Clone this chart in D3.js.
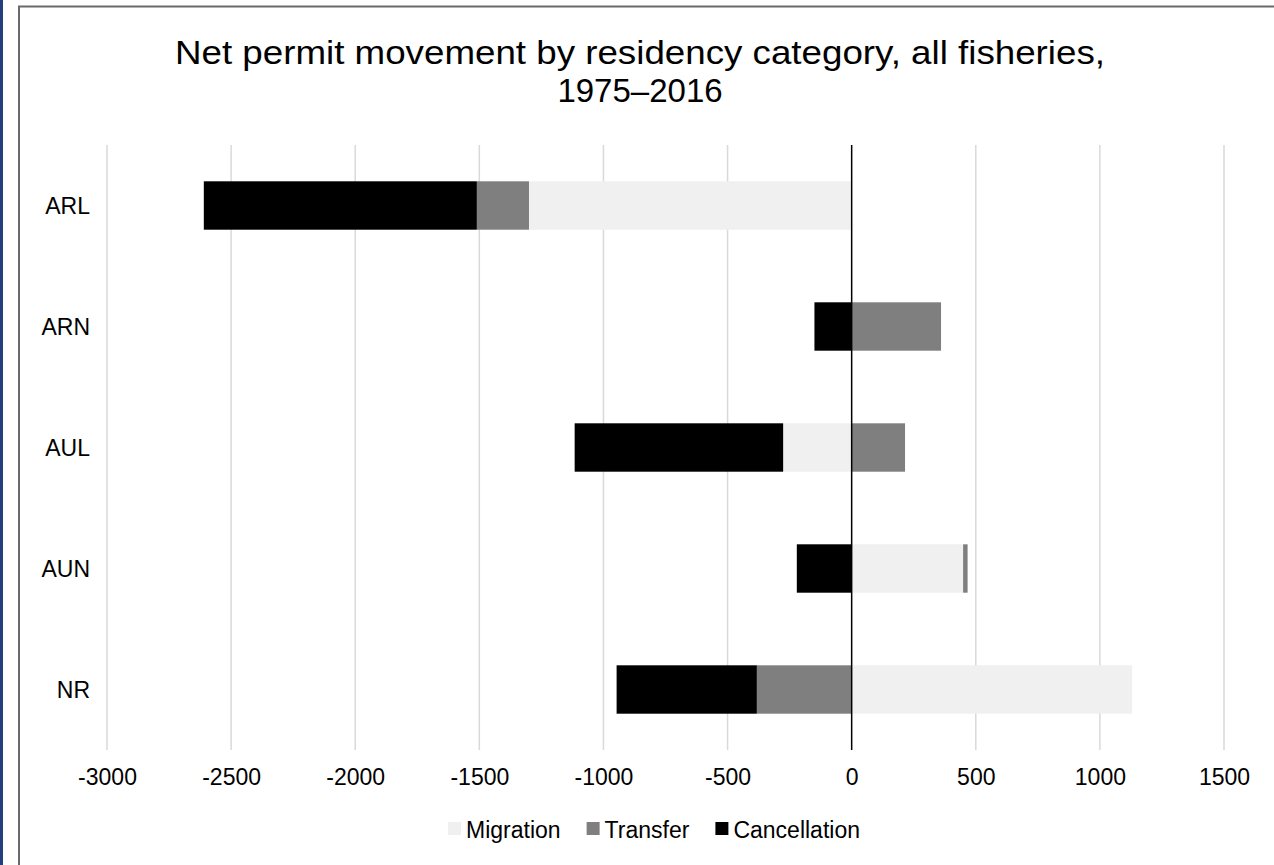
<!DOCTYPE html>
<html>
<head>
<meta charset="utf-8">
<script src="https://cdn.jsdelivr.net/npm/d3@7"></script>
<style>
  html, body { margin: 0; padding: 0; background: #fff; }
  svg { display: block; }
  text { font-family: "Liberation Sans", Arial, sans-serif; fill: #000; }
</style>
</head>
<body>
<svg id="chart" width="1274" height="865"></svg>
<script>
// ---- data ----
const categories = ["ARL", "ARN", "AUL", "AUN", "NR"];
const seriesNames = ["Migration", "Transfer", "Cancellation"];
const migration    = [-1300,    0, -276, 449, 1130];
const transfer     = [ -210,  360,  215,  18, -382];
const cancellation = [-1100, -150, -840, -221, -565];
const xTicks = [-3000, -2500, -2000, -1500, -1000, -500, 0, 500, 1000, 1500];
const titleLines = ["Net permit movement by residency category, all fisheries,", "1975\u20132016"];
const colors = ["#f0f0f0", "#7f7f7f", "#000000"];

const W = 1274, H = 865;
const svg = d3.select("#chart");

// frame
svg.append("rect").attr("x", 0).attr("y", 0).attr("width", 3).attr("height", H).attr("fill", "#24407c");
svg.append("rect").attr("x", 19).attr("y", 6.5).attr("width", W).attr("height", H + 20)
  .attr("fill", "none").attr("stroke", "#6a6a6a").attr("stroke-width", 2);

const x = d3.scaleLinear().domain([-3000, 1500]).range([107, 1224]);
const y = d3.scaleBand().domain(categories).range([145, 750]).paddingInner(0.6).paddingOuter(0.3);

// gridlines
svg.append("g").selectAll("line").data(xTicks.filter(t => t !== 0)).join("line")
  .attr("x1", d => x(d)).attr("x2", d => x(d))
  .attr("y1", 145).attr("y2", 750)
  .attr("stroke", "#d9d9d9").attr("stroke-width", 1.5);

// stacked data
const rows = categories.map((c, i) => ({cat: c, Migration: migration[i], Transfer: transfer[i], Cancellation: cancellation[i]}));
const stack = d3.stack().keys(seriesNames).offset(d3.stackOffsetDiverging);
const layers = stack(rows);

svg.append("g").selectAll("g").data(layers).join("g")
  .attr("fill", (d, i) => colors[i])
  .selectAll("rect").data(d => d).join("rect")
  .attr("x", d => x(Math.min(d[0], d[1])))
  .attr("width", d => Math.abs(x(d[1]) - x(d[0])))
  .attr("y", d => y(d.data.cat))
  .attr("height", y.bandwidth());

// zero line
svg.append("line").attr("x1", x(0)).attr("x2", x(0)).attr("y1", 145).attr("y2", 750)
  .attr("stroke", "#000").attr("stroke-width", 1.5);

const fontFam = '"Liberation Sans", Arial, sans-serif';

// x axis labels
const xAxis = d3.axisBottom(x).tickValues(xTicks).tickSize(0).tickPadding(0).tickFormat(d => String(d));
const gx = svg.append("g").attr("transform", "translate(0,785)").call(xAxis);
gx.select(".domain").remove();
gx.selectAll("text").attr("font-size", 23).attr("dy", 0).attr("fill", "#000").style("font-family", fontFam);

// y axis labels
const yAxis = d3.axisLeft(y).tickSize(0).tickPadding(0);
const gy = svg.append("g").attr("transform", "translate(90,0)").call(yAxis);
gy.select(".domain").remove();
gy.selectAll("text").attr("font-size", 23).attr("dy", "0.35em").attr("fill", "#000").style("font-family", fontFam);

// title
svg.append("g").selectAll("text").data(titleLines).join("text")
  .attr("x", 640).attr("y", (d, i) => 64 + i * 38)
  .attr("text-anchor", "middle").attr("font-size", 33)
  .each(function(d, i) {
    if (i === 0) d3.select(this).attr("textLength", 930).attr("lengthAdjust", "spacingAndGlyphs");
  })
  .text(d => d);

// legend
const lg = svg.append("g");
const items = lg.selectAll("g").data(seriesNames).join("g");
items.append("rect").attr("width", 13).attr("height", 13).attr("y", -16)
  .attr("fill", (d, i) => colors[i]);
items.append("text").attr("x", 18).attr("y", 0).attr("font-size", 23).text(d => d);
let cx = 0;
const gap = 26;
items.each(function(d) {
  const w = 18 + d3.select(this).select("text").node().getComputedTextLength();
  d3.select(this).attr("transform", `translate(${cx},838)`);
  cx += w + gap;
});
const total = cx - gap;
lg.attr("transform", `translate(${654 - total / 2},0)`);
</script>
</body>
</html>
